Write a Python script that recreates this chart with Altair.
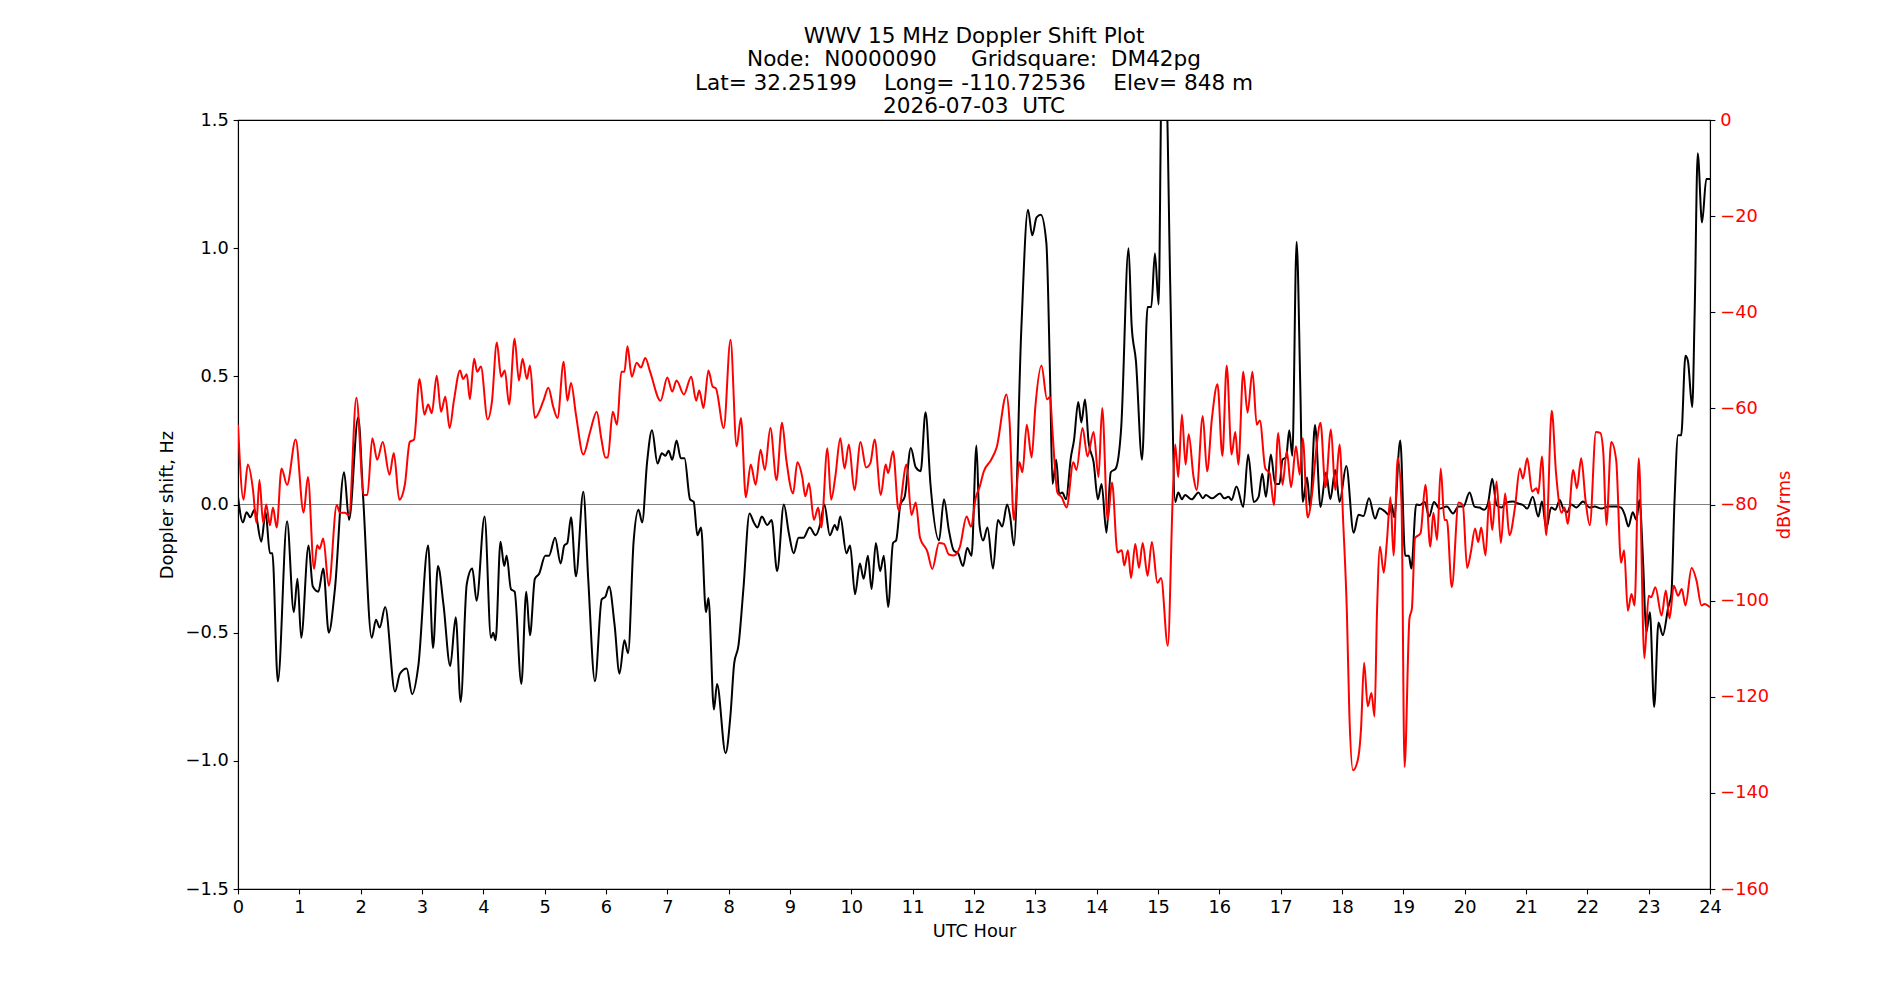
import altair as alt
import pandas as pd

# ---------------- data ----------------
doppler_hours = [
    0.00, 0.08, 0.14, 0.20, 0.27, 0.38, 0.45, 0.52, 0.56, 0.65, 0.80, 0.91, 0.97, 1.03, 1.15, 1.22, 1.31, 1.39,
    1.48, 1.58, 1.73, 1.81, 1.96, 2.04, 2.18, 2.25, 2.31, 2.40, 2.56, 2.64, 2.75, 2.84, 2.94, 3.10, 3.18, 3.26,
    3.35, 3.46, 3.55, 3.63, 3.73, 3.82, 3.89, 4.02,
    4.125, 4.16, 4.20, 4.28, 4.34, 4.38, 4.45, 4.51, 4.62, 4.70, 4.76, 4.84, 4.91, 5.01, 5.07, 5.17, 5.26, 5.32,
    5.37, 5.43, 5.51, 5.63, 5.71, 5.82, 5.93, 5.99, 6.05, 6.14, 6.22, 6.30, 6.36, 6.45, 6.53, 6.59, 6.67, 6.75,
    6.84, 6.91, 6.97, 7.02, 7.08, 7.15, 7.22, 7.28, 7.37, 7.43, 7.49, 7.55, 7.63, 7.67, 7.76, 7.81, 7.95,
    8.03, 8.09, 8.16, 8.24, 8.34, 8.41, 8.47, 8.54, 8.63, 8.70, 8.79, 8.90, 8.98, 9.06, 9.14, 9.22, 9.32, 9.42,
    9.50, 9.56, 9.65, 9.73, 9.77, 9.82, 9.92, 9.98, 10.06, 10.14, 10.20, 10.27, 10.33, 10.40, 10.47, 10.53,
    10.60, 10.68, 10.73, 10.80, 10.87, 10.97, 11.05, 11.13, 11.21, 11.29, 11.43, 11.51, 11.59, 11.67, 11.74,
    11.82, 11.89, 11.96, 12.04,
    12.09, 12.15, 12.22, 12.31, 12.39, 12.46, 12.54, 12.59, 12.65, 12.77, 12.88, 12.95, 13.02, 13.09, 13.18,
    13.24, 13.28, 13.34, 13.39, 13.44, 13.50, 13.58, 13.63, 13.70, 13.75, 13.81, 13.87, 13.95, 14.02, 14.08,
    14.16, 14.23, 14.31, 14.40, 14.52, 14.57, 14.64, 14.74, 14.83, 14.89, 14.95, 15.01, 15.06, 15.13, 15.20,
    15.28, 15.33, 15.39, 15.44, 15.55, 15.66, 15.73, 15.78, 15.88,
    16.01, 16.08, 16.15, 16.20, 16.28, 16.39, 16.47, 16.56, 16.64, 16.70, 16.76, 16.84, 16.91, 16.98, 17.03,
    17.09, 17.14, 17.19, 17.26, 17.32, 17.36, 17.43, 17.48, 17.56, 17.65, 17.74, 17.81, 17.89, 17.96, 18.07,
    18.19, 18.27, 18.35, 18.44, 18.54, 18.61, 18.70, 18.76, 18.81, 18.85, 18.95, 19.03, 19.09, 19.13, 19.21,
    19.27, 19.35, 19.42, 19.50, 19.59, 19.71, 19.81, 19.90, 19.98,
    20.08, 20.16, 20.24, 20.32, 20.38, 20.45, 20.52, 20.60, 20.68, 20.79, 20.87, 20.95, 21.02, 21.11, 21.20,
    21.26, 21.33, 21.41, 21.48, 21.55, 21.60, 21.67, 21.74, 21.82, 21.93, 22.04, 22.12, 22.23, 22.34, 22.47,
    22.55, 22.61, 22.67, 22.74, 22.80, 22.85, 22.91, 22.96, 23.02, 23.09, 23.16, 23.23, 23.32, 23.37, 23.42,
    23.48, 23.53, 23.60, 23.64, 23.71, 23.75, 23.80, 23.87, 23.94, 24.00,
]
doppler_hz = [
    0.03, -0.07, -0.03, -0.05, -0.02, -0.145, -0.03, -0.19, -0.19, -0.69, -0.065, -0.42, -0.29, -0.52, -0.16,
    -0.32, -0.34, -0.25, -0.50, -0.33, 0.126, -0.06, 0.34, 0.03, -0.52, -0.45, -0.48, -0.40, -0.73, -0.66, -0.64,
    -0.74, -0.63, -0.16, -0.56, -0.24, -0.39, -0.63, -0.44, -0.77, -0.31, -0.25, -0.375, -0.047,
    -0.52, -0.50, -0.53, -0.145, -0.24, -0.20, -0.33, -0.34, -0.70, -0.34, -0.51, -0.29, -0.27, -0.20, -0.20,
    -0.13, -0.23, -0.16, -0.15, -0.05, -0.28, 0.05, -0.29, -0.69, -0.37, -0.36, -0.32, -0.47, -0.66, -0.53,
    -0.58, -0.145, -0.02, -0.07, 0.165, 0.29, 0.16, 0.20, 0.19, 0.21, 0.175, 0.25, 0.18, 0.18, 0.02, 0.01,
    -0.12, -0.09, -0.42, -0.365, -0.80, -0.70, -0.97,
    -0.82, -0.62, -0.55, -0.33, -0.035, -0.07, -0.09, -0.047, -0.08, -0.06, -0.26, 0.0, -0.11, -0.19, -0.13,
    -0.13, -0.09, -0.12, -0.07, 0.0, -0.12, -0.08, -0.10, -0.047, -0.19, -0.16, -0.35, -0.23, -0.29, -0.20,
    -0.33, -0.15, -0.26, -0.20, -0.40, -0.15, -0.14, 0.0, 0.03, 0.22, 0.145, 0.13, 0.36, 0.08, -0.14, 0.02,
    -0.10, -0.18, -0.19, -0.24, -0.17, -0.20, 0.23,
    -0.08, -0.14, -0.09, -0.25, -0.06, -0.086, 0.0, -0.047, -0.16, 0.675, 1.15, 1.05, 1.12, 1.13, 1.02, 0.50,
    0.08, 0.175, 0.04, 0.047, 0.02, 0.185, 0.25, 0.40, 0.32, 0.41, 0.24, 0.165, 0.02, 0.08, -0.11, 0.126, 0.14,
    0.30, 1.0, 0.70, 0.56, 0.175, 0.77, 0.77, 0.98, 0.78, 1.65, 1.65, 0.85, 0.01, 0.047, 0.02, 0.037, 0.02,
    0.047, 0.024, 0.037, 0.024,
    0.043, 0.024, 0.03, 0.018, 0.07, -0.01, 0.195, 0.01, 0.03, 0.12, 0.03, 0.195, 0.08, 0.08, 0.175, 0.185,
    0.29, 0.19, 1.025, 0.46, 0.01, 0.105, -0.01, 0.31, -0.01, 0.125, 0.02, 0.135, 0.01, 0.15, -0.11, -0.04,
    -0.045, 0.024, -0.055, -0.015, -0.027, -0.04, 0.0, -0.05, 0.25, -0.20, -0.20, -0.25, 0.0, -0.002, 0.01,
    -0.047, 0.01, -0.016, -0.008, -0.035, -0.008, -0.008,
    0.047, -0.008, -0.012, -0.02, 0.004, 0.10, -0.002, -0.012, 0.008, 0.012, 0.004, -0.002, -0.016, 0.03,
    -0.047, 0.012, -0.094, -0.012, -0.02, 0.018, -0.012, -0.03, 0.0, -0.012, 0.012, -0.012, -0.008, -0.016,
    -0.008, -0.008, -0.012, -0.04, -0.086, -0.03, -0.06, 0.018, -0.23, -0.50, -0.42, -0.79, -0.46, -0.51,
    -0.40, -0.35, 0.004, 0.27, 0.27, 0.58, 0.56, 0.38, 0.75, 1.37, 1.10, 1.27, 1.27,
]

power_hours = [
    0.00, 0.09, 0.16, 0.245, 0.30, 0.35, 0.41, 0.46, 0.52, 0.57, 0.63, 0.71, 0.80, 0.94, 1.07, 1.14, 1.24, 1.29,
    1.33, 1.39, 1.48, 1.61, 1.66, 1.74, 1.81, 1.93, 2.05, 2.11, 2.19, 2.27, 2.36, 2.47, 2.54, 2.63, 2.72, 2.80,
    2.87, 2.96, 3.04, 3.10, 3.16, 3.24, 3.31, 3.38, 3.45, 3.52, 3.62, 3.67, 3.73, 3.78, 3.85, 3.90, 3.96, 4.07,
    4.14, 4.22, 4.29, 4.35, 4.42, 4.51, 4.58, 4.64, 4.71, 4.76, 4.84, 4.98, 5.06, 5.14, 5.21, 5.31, 5.37, 5.43,
    5.51, 5.63, 5.74, 5.85, 5.92, 5.99, 6.03, 6.11, 6.18, 6.25, 6.30, 6.35, 6.42, 6.50, 6.57, 6.64, 6.72, 6.89,
    7.00, 7.08, 7.15, 7.27, 7.39, 7.47, 7.52, 7.59, 7.67, 7.74, 7.79, 7.92, 8.03,
    8.13, 8.20, 8.28, 8.36, 8.44, 8.52, 8.59, 8.68, 8.78, 8.87, 8.94, 9.05, 9.12, 9.20, 9.25, 9.31, 9.39, 9.46,
    9.51, 9.61, 9.67, 9.74, 9.82, 9.89, 9.96, 10.05, 10.15, 10.24, 10.31, 10.38, 10.48, 10.56, 10.60, 10.68,
    10.77, 10.90, 10.98, 11.05, 11.12, 11.24, 11.32, 11.43, 11.51, 11.59, 11.67, 11.77, 11.88, 11.95, 12.03,
    12.09, 12.16, 12.28, 12.37, 12.53, 12.58, 12.65, 12.74, 12.79, 12.86, 12.94, 13.00, 13.10, 13.19, 13.24,
    13.28, 13.36, 13.43, 13.51, 13.62, 13.67, 13.77, 13.85, 13.95, 14.03, 14.09, 14.18, 14.25, 14.34, 14.41,
    14.45, 14.51, 14.56, 14.63, 14.69, 14.75, 14.83, 14.90, 14.99, 15.05, 15.16, 15.24, 15.28, 15.33, 15.39,
    15.45, 15.50, 15.58, 15.63, 15.73, 15.80, 15.88, 15.97,
    16.05, 16.12, 16.20, 16.26, 16.31, 16.39, 16.46, 16.54, 16.61, 16.66, 16.75, 16.82, 16.89, 16.96, 17.03,
    17.10, 17.17, 17.25, 17.31, 17.36, 17.44, 17.51, 17.58, 17.65, 17.73, 17.82, 17.89, 17.96, 18.02, 18.08,
    18.12, 18.18, 18.26, 18.31, 18.36, 18.42, 18.48, 18.53, 18.57, 18.62, 18.68, 18.73, 18.79, 18.84, 18.91,
    18.97, 19.02, 19.10, 19.14, 19.19, 19.28, 19.36, 19.44, 19.49, 19.55, 19.61, 19.67, 19.71, 19.79, 19.90,
    19.97, 20.04,
    20.10, 20.17, 20.22, 20.27, 20.34, 20.40, 20.45, 20.52, 20.59, 20.66, 20.73, 20.82, 20.90, 20.95, 21.02,
    21.10, 21.17, 21.20, 21.26, 21.33, 21.42, 21.49, 21.58, 21.63, 21.68, 21.77, 21.83, 21.90, 21.97, 22.04,
    22.14, 22.21, 22.26, 22.31, 22.39, 22.47, 22.55, 22.60, 22.66, 22.72, 22.77, 22.84, 22.93, 23.00, 23.04,
    23.11, 23.21, 23.28, 23.34, 23.41, 23.48, 23.54, 23.60, 23.70, 23.78, 23.86, 23.91, 24.00,
]
power_db = [
    -63.4, -79, -71.7, -77, -83.8, -74.9, -83.8, -80, -84.3, -80.6, -84.8, -72.5, -75.9, -66.5, -81.7, -74.3,
    -93.4, -88.5, -89.2, -87.1, -96.9, -80.1, -81.7, -81.7, -82.2, -57.8, -78, -78, -66.2, -70.7, -67, -73.8,
    -69.3, -79, -75.9, -67, -66.5, -53.9, -61.3, -59.2, -61, -53.2, -60.7, -57.6, -64.1, -58.4, -52.1, -53.9,
    -52.9, -58.1, -49.7, -52.4, -51.3, -62.3,
    -58.6, -46.3, -53.4, -52.1, -59.2, -45.5, -54.2, -49.7, -53.9, -51.1, -62, -58.4, -55.7, -59.7, -62, -50.3,
    -58.4, -54.7, -61.3, -69.6, -64.9, -60.7, -66, -70.2, -70.2, -60.7, -63.4, -52.4, -52.4, -47.1, -53.4,
    -50.5, -51.5, -49.5, -52.4, -58.4, -53.6, -56.5, -54.2, -57.1, -53.4, -58.4, -56.3, -59.9, -52.1, -55.5,
    -55.8, -64.1, -45.7,
    -67.9, -62, -78.5, -71.7, -75.9, -68.6, -72.8, -64.1, -74.9, -63, -70.7, -77.7, -71.2, -74.3, -78.3, -75.6,
    -83.2, -80.6, -84.8, -68.3, -79, -74.1, -66.2, -72.5, -67.5, -77, -67, -72.3, -71.4, -66.5, -78, -71.7,
    -73.5, -68.9, -81.2, -71.7, -82.2, -79.6, -86.9, -89.8, -93.4, -88, -88.2, -90.4, -90.6, -88.8, -82.5,
    -84.6, -78.5,
    -76.4, -73.1, -70.7, -68.1, -57.1, -62.8, -83.2, -71.2, -73.3, -63.4, -70.2, -59.7, -51.1, -58.1, -57.6,
    -64.9, -77.5, -78.5, -80.6, -71.2, -72.8, -64.1, -70, -64.9, -74.3, -59.9, -83.2, -75.4, -90, -89.5, -92.7,
    -89.5, -95.3, -88.2, -93.2, -88, -94.8, -87.8, -96.3, -95.3, -109.4, -78.5, -67.5, -74.3, -61.3, -71.7,
    -65.4, -74.3, -77, -61.6, -73.1, -62, -55,
    -69.9, -51.1, -69.6, -64.9, -71.7, -52.4, -60.9, -52.4, -63.4, -62.5, -72.5, -73.5, -80.1, -65.1, -75.9,
    -68.9, -76.4, -67.9, -73.8, -66.2, -82.7, -78, -68.6, -63, -76.4, -64.4, -77, -67.5, -83.8, -102.6, -123.6,
    -135.3, -133, -126.7, -112.9, -122, -119.2, -124.1, -102.6, -88.8, -94.2, -88, -78.5, -90.6, -70.2, -79.6,
    -134.6, -103.7, -101.6, -87, -86, -75.9, -88.8, -81.7, -87.4, -72.5, -83.2, -83.2, -97.2, -79.6, -80.1,
    -93.2,
    -90, -85, -87.8, -84.8, -90.6, -79, -85.3, -75.2, -88, -77.7, -86.4, -80.6, -72.5, -74.6, -70.4, -77.3,
    -76.6, -77.7, -70, -86.4, -60.5, -73.5, -81.7, -80.6, -84, -72.8, -76.6, -70.4, -79, -84.3, -64.9, -65.1,
    -69.1, -84.3, -67, -70.7, -92.1, -89.5, -102.1, -98.6, -101, -70.4, -112, -99, -99.3, -97.2, -103.1, -97.9,
    -103.7, -96.9, -99, -97.6, -101, -93.2, -95.8, -101, -100.7, -101.4,
]

hour_ticks = list(range(0, 25))
hz_ticks = [-1.5, -1.0, -0.5, 0.0, 0.5, 1.0, 1.5]
db_ticks = [-160, -140, -120, -100, -80, -60, -40, -20, 0]
title_lines = [
    "WWV 15 MHz Doppler Shift Plot",
    "Node:\u00a0\u00a0N0000090\u00a0\u00a0\u00a0\u00a0\u00a0Gridsquare:\u00a0\u00a0DM42pg",
    "Lat=\u00a032.25199\u00a0\u00a0\u00a0\u00a0Long=\u00a0-110.72536\u00a0\u00a0\u00a0\u00a0Elev=\u00a0848\u00a0m",
    "2026-07-03\u00a0\u00a0UTC",
]

# ---------------- chart ----------------
FONT = "DejaVu Sans"
LABEL_SIZE = 17.8
df_d = pd.DataFrame({"hour": doppler_hours, "hz": doppler_hz})
df_p = pd.DataFrame({"hour": power_hours, "db": power_db})
df_zero = pd.DataFrame({"zero": [0.0]})

x_enc = alt.X(
    "hour:Q",
    scale=alt.Scale(domain=[0, 24], nice=False, zero=False),
    axis=alt.Axis(values=hour_ticks, format="d", title="UTC Hour", labelFlush=False,
                  labelOverlap=False, titlePadding=6),
)

zero_line = alt.Chart(df_zero).mark_rule(color="#808080", strokeWidth=1).encode(
    y=alt.Y("zero:Q", scale=alt.Scale(domain=[-1.5, 1.5], nice=False, zero=False), axis=None)
)

black = alt.Chart(df_d).mark_line(
    color="black", strokeWidth=2, interpolate="monotone", clip=True
).encode(
    x=x_enc,
    y=alt.Y("hz:Q", scale=alt.Scale(domain=[-1.5, 1.5], nice=False, zero=False),
            axis=alt.Axis(orient="left", values=hz_ticks, format=".1f",
                          title="Doppler shift, Hz", titlePadding=9, labelOverlap=False)),
)

red = alt.Chart(df_p).mark_line(
    color="red", strokeWidth=2, interpolate="monotone", clip=True
).encode(
    x=x_enc,
    y=alt.Y("db:Q", scale=alt.Scale(domain=[-160, 0], nice=False, zero=False),
            axis=alt.Axis(orient="right", values=db_ticks, format="d", title="dBVrms",
                          titleColor="red", labelColor="red", titleAngle=270,
                          titleBaseline="top", titlePadding=7, labelOverlap=False)),
)

chart = (
    alt.layer(zero_line, black, red)
    .resolve_scale(y="independent")
    .properties(
        width=1472,
        height=769,
        autosize=alt.AutoSizeParams(type="none"),
        padding={"left": 238, "top": 120, "right": 190, "bottom": 111},
        title=alt.TitleParams(
            text=title_lines, font=FONT, fontSize=21.6, fontWeight="normal", color="black",
            lineHeight=23.2, anchor="middle", baseline="bottom", offset=-28.5, frame="group",
        ),
    )
    .configure_view(stroke="black", strokeWidth=1.1)
    .configure_axis(
        grid=False, domain=True, domainColor="black", domainWidth=1.1,
        ticks=True, tickColor="black", tickWidth=1.1, tickSize=4.9, labelPadding=4.9,
        labelFont=FONT, labelFontSize=LABEL_SIZE, labelColor="black",
        titleFont=FONT, titleFontSize=LABEL_SIZE, titleFontWeight="normal", titleColor="black",
    )
)

chart.save("out.html", embed_options={"renderer": "svg", "actions": False})
